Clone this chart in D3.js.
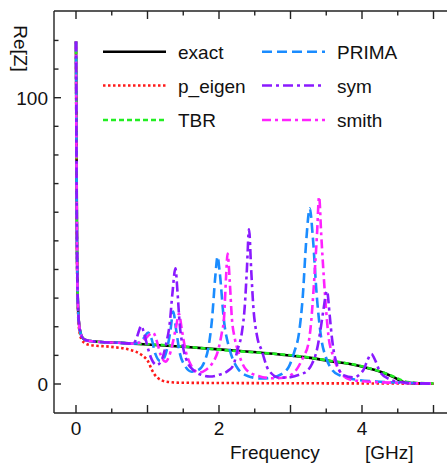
<!DOCTYPE html>
<html lang="en">
  <head>
    <meta charset="utf-8">
    <title>Re[Z]</title>
    <style>
      body { margin: 0; background: #fff; }
      text { font-family: "Liberation Sans", Arial, sans-serif; font-size: 19px; fill: #111; }
    </style>
    <script src="https://d3js.org/d3.v7.min.js"></script>
  </head>
  <body>
    <div id="viz"></div>
    <script>

    // [frequency GHz, Re[Z]]
    var spike = [[0,119.6],[0.015,45],[0.03,26],[0.05,19.5],[0.08,16.6],[0.12,15.5],[0.2,15.0],[0.4,14.6],[0.6,14.4],[0.8,14.1]];

    var exact = spike.concat([[1.0,13.8],[1.5,13.0],[2.0,12.1],[2.3,11.5],[2.85,10.3],[3.25,9.2],[3.55,8.0],[3.85,6.9],
      [4.1,5.4],[4.3,3.9],[4.45,2.3],[4.58,0.7],[4.7,0.3],[5.0,0.1]]);

    var pEigen = [[0,119.6],[0.015,42],[0.03,24],[0.05,18],[0.08,15.5],[0.12,14.4],[0.2,13.6],[0.48,13.0],[0.76,11.9],
      [0.92,10.1],[1.01,7.8],[1.06,5.0],[1.13,2.4],[1.27,0.8],[1.45,0.45],[2.5,0.3],[4.0,0.2],[5.0,0.1]];

    var tbr = spike.concat([[1.0,13.9],[1.5,13.1],[2.0,12.0],[2.3,11.4],[2.85,10.4],[3.25,9.3],[3.55,8.1],[3.85,7.0],
      [4.1,5.5],[4.3,4.0],[4.45,2.5],[4.6,0.9],[4.75,0.4],[5.0,0.2]]);

    var prima = spike.concat([[0.9,14.6],[0.96,16.5],[1.01,18.0],[1.06,15.5],[1.11,10.5],[1.18,8.0],[1.23,9.0],[1.28,13],
      [1.32,18.5],[1.36,25.3],[1.40,19],[1.45,11],[1.52,6.5],[1.62,4.3],[1.73,5.2],[1.8,8],[1.85,12.5],[1.9,22],
      [1.95,38],[1.98,44.5],[2.01,39],[2.07,22],[2.15,12],[2.26,5.5],[2.4,2.8],[2.6,1.9],[2.75,2.3],[2.95,5],
      [3.05,11],[3.12,18],[3.17,30],[3.22,50],[3.27,61.4],[3.31,52],[3.37,30],[3.43,16],[3.5,9],[3.58,5],
      [3.69,3.0],[3.9,1.6],[4.2,0.9],[4.5,0.5],[5.0,0.1]]);

    var sym = spike.concat([[0.84,15.5],[0.88,18.5],[0.91,20.3],[0.95,18],[1.0,13],[1.06,8.5],[1.13,6.6],[1.2,8.5],
      [1.26,14],[1.31,21],[1.35,32],[1.39,40.4],[1.42,32],[1.45,21],[1.5,12.5],[1.56,7.5],[1.64,4.9],[1.75,3.2],
      [1.87,2.6],[2.0,3.2],[2.12,4.5],[2.2,6.5],[2.26,12],[2.32,18],[2.36,27],[2.39,40],[2.42,54],[2.45,40],
      [2.48,27],[2.53,17],[2.6,11.5],[2.69,5],[2.85,2.2],[3.0,2.4],[3.15,3.5],[3.23,4.5],[3.3,7],[3.37,12],
      [3.42,19],[3.46,25.8],[3.51,32.5],[3.55,23.5],[3.58,16],[3.62,9.5],[3.74,3.1],[3.88,2.3],[4.02,4.9],
      [4.08,8.5],[4.13,10.5],[4.19,8],[4.25,4.3],[4.39,1.6],[4.58,0.5],[5.0,0.1]]);

    var smith = spike.concat([[0.9,14.5],[0.97,15.8],[1.03,17.3],[1.08,17.9],[1.13,15],[1.18,10.5],[1.25,7.8],[1.3,9.5],
      [1.35,14],[1.4,20],[1.44,24.5],[1.48,19],[1.53,12],[1.6,7],[1.72,4.0],[1.82,5],[1.9,7],[1.99,12],[2.04,18],
      [2.07,23],[2.1,38],[2.12,45.6],[2.15,36],[2.18,23],[2.22,16],[2.26,12],[2.38,5],[2.55,2.8],[2.75,2.0],
      [2.9,2.2],[3.05,4],[3.18,9.5],[3.25,14],[3.29,22],[3.32,32],[3.37,52],[3.4,65.4],[3.43,52],[3.48,32],
      [3.53,17],[3.6,9.5],[3.7,4],[3.83,1.6],[4.1,0.8],[4.5,0.4],[5.0,0.1]]);

    var xMajor = [0, 1, 2, 3, 4, 5],
        xMinor = [0.5, 1.5, 2.5, 3.5, 4.5],
        xLabels = [0, 2, 4],
        yTicks = [0, 10, 20, 30, 40, 50, 60, 70, 80, 90, 100, 110, 120],
        yLabels = [0, 100];

    var series = [
      { name: 'exact',   data: exact,  color: '#000000', dash: null },
      { name: 'p_eigen', data: pEigen, color: '#ff1a1a', dash: '2.5,2.5' },
      { name: 'TBR',     data: tbr,    color: '#22ee22', dash: '5,3' },
      { name: 'PRIMA',   data: prima,  color: '#1a8cff', dash: '10,5' },
      { name: 'smith',   data: smith,  color: '#ff22ff', dash: '9,4,3,4' },
      { name: 'sym',     data: sym,    color: '#8a1aff', dash: '10,4,3,4' }
    ];

    var W = 447, H = 463,
        pLeft = 54, pTop = 11, pBottom = 413, pRight = 460;

    var x = d3.scaleLinear().domain([0, 5]).range([76, 433.5]);
    var y = d3.scaleLinear().domain([0, 100]).range([384, 97.7]);

    var svg = d3.select('#viz')
        .append('svg')
        .attr('width', W)
        .attr('height', H);

    svg.append('defs').append('clipPath').attr('id', 'plot')
      .append('rect').attr('x', pLeft).attr('y', pTop).attr('width', pRight - pLeft).attr('height', pBottom - pTop);

    var line = d3.line()
        .x(function(d) { return x(d[0]); })
        .y(function(d) { return y(d[1]); })
        .curve(d3.curveMonotoneX);

    svg.append('g').attr('clip-path', 'url(#plot)')
      .selectAll('path')
      .data(series)
      .enter()
      .append('path')
        .attr('d', function(d) { return line(d.data); })
        .attr('fill', 'none')
        .attr('stroke', function(d) { return d.color; })
        .attr('stroke-width', 2.6)
        .attr('stroke-dasharray', function(d) { return d.dash; });

    // frame
    var axis = svg.append('g').attr('stroke', '#222').attr('stroke-width', 1.4);
    axis.append('line').attr('x1', pLeft).attr('x2', pRight).attr('y1', pTop).attr('y2', pTop);
    axis.append('line').attr('x1', pLeft).attr('x2', pRight).attr('y1', pBottom).attr('y2', pBottom);
    axis.append('line').attr('x1', pLeft).attr('x2', pLeft).attr('y1', pTop).attr('y2', pBottom);

    // x ticks, inward on bottom and top
    [[xMajor, 8], [xMinor, 4.5]].forEach(function(t) {
      axis.selectAll(null).data(t[0]).enter().append('line')
        .attr('x1', function(d) { return x(d); }).attr('x2', function(d) { return x(d); })
        .attr('y1', pBottom).attr('y2', pBottom - t[1]);
      axis.selectAll(null).data(t[0]).enter().append('line')
        .attr('x1', function(d) { return x(d); }).attr('x2', function(d) { return x(d); })
        .attr('y1', pTop).attr('y2', pTop + t[1]);
    });

    axis.selectAll(null).data(yTicks).enter().append('line')
      .attr('x1', pLeft).attr('x2', function(d) { return pLeft + (d % 100 === 0 ? 7 : 4.5); })
      .attr('y1', function(d) { return y(d); }).attr('y2', function(d) { return y(d); });

    svg.selectAll(null).data(xLabels).enter().append('text')
      .attr('x', function(d) { return x(d); })
      .attr('y', 435)
      .attr('text-anchor', 'middle')
      .text(function(d) { return d; });

    svg.selectAll(null).data(yLabels).enter().append('text')
      .attr('x', 48)
      .attr('y', function(d) { return y(d) + 7; })
      .attr('text-anchor', 'end')
      .text(function(d) { return d; });

    svg.append('text').attr('x', 230).attr('y', 458.5).text('Frequency');
    svg.append('text').attr('x', 365).attr('y', 458.5).text('[GHz]');
    svg.append('text')
      .attr('transform', 'translate(14,48.5) rotate(90)')
      .attr('text-anchor', 'middle')
      .text('Re[Z]');

    // legend, two columns of three
    var legendOrder = ['exact', 'p_eigen', 'TBR', 'PRIMA', 'sym', 'smith'];
    var leg = svg.append('g')
      .selectAll('g')
      .data(legendOrder.map(function(n) { return series.filter(function(s) { return s.name === n; })[0]; }))
      .enter()
      .append('g')
        .attr('transform', function(d, i) {
          return 'translate(' + (i < 3 ? 103 : 262) + ',' + [51.7, 85.5, 120][i % 3] + ')';
        });
    leg.append('line')
      .attr('x1', 0).attr('x2', 63)
      .attr('stroke', function(d) { return d.color; })
      .attr('stroke-width', 2.6)
      .attr('stroke-dasharray', function(d) { return d.dash; });
    leg.append('text')
      .attr('x', 75).attr('y', 7)
      .text(function(d) { return d.name; });

    </script>
  </body>
</html>
